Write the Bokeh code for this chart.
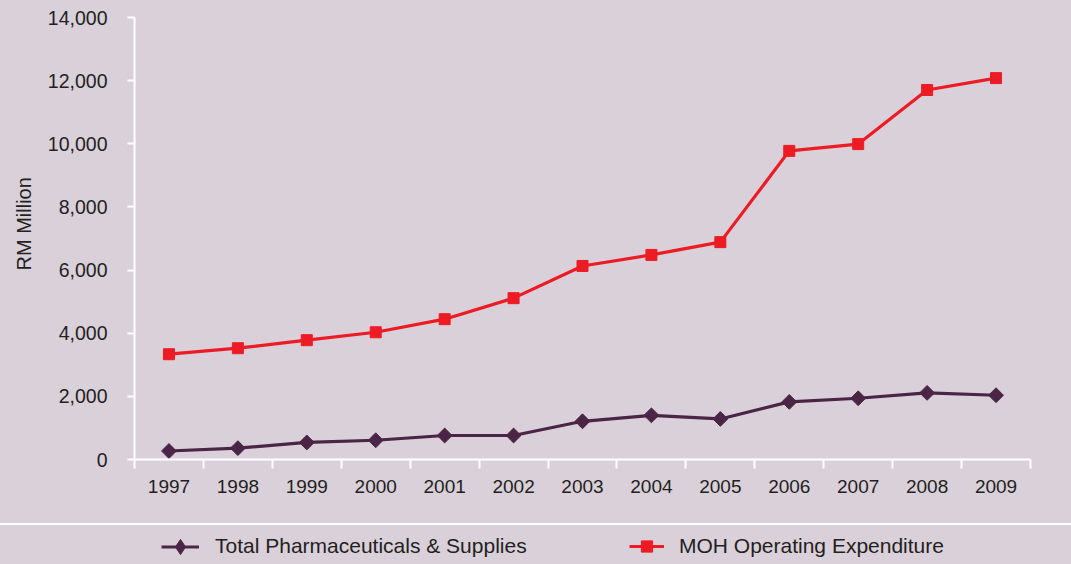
import math
from bokeh.plotting import figure
from bokeh.models import (ColumnDataSource, Range1d, FixedTicker, NumeralTickFormatter,
                          Legend, LegendItem, Title)
from bokeh.layouts import column
from bokeh.embed import file_html
from bokeh.resources import INLINE

# ---- data ----
years = ["1997", "1998", "1999", "2000", "2001", "2002", "2003",
         "2004", "2005", "2006", "2007", "2008", "2009"]
moh_operating = [3335, 3525, 3780, 4030, 4445, 5110, 6130,
                 6480, 6885, 9775, 9990, 11705, 12080]
pharma_supplies = [270, 360, 540, 610, 760, 760, 1210,
                   1400, 1285, 1825, 1940, 2110, 2035]
y_ticks = [0, 2000, 4000, 6000, 8000, 10000, 12000, 14000]
label_pharma = "Total Pharmaceuticals & Supplies"
label_moh = "MOH Operating Expenditure"
y_label = "RM Million"

# ---- style ----
BG = "#dad0da"
TXT = "#231f20"
PURPLE = "#4b2545"
RED = "#ed1c24"
FONT = "Liberation Sans"

xs = [i + 0.5 for i in range(len(years))]
src = ColumnDataSource(dict(x=xs, year=years, moh=moh_operating, pharma=pharma_supplies))

p = figure(width=1071, height=523,
           x_range=Range1d(0, len(years)), y_range=Range1d(0, 14000),
           output_backend="svg", toolbar_location=None,
           min_border_left=134, min_border_right=41,
           min_border_top=17, min_border_bottom=64,
           styles={"background-color": BG})
p.background_fill_color = BG
p.border_fill_color = BG
p.outline_line_color = None
p.grid.visible = False

p.line("x", "moh", source=src, line_color=RED, line_width=3.2)
p.scatter("x", "moh", source=src, marker="square", size=11,
          fill_color=RED, line_color=RED)
p.line("x", "pharma", source=src, line_color=PURPLE, line_width=3.2)
p.scatter("x", "pharma", source=src, marker="square", angle=math.pi / 4, size=10.5,
          fill_color=PURPLE, line_color=PURPLE)

# x axis: labels at category centres, ticks at category boundaries
xa = p.xaxis[0]
xa.ticker = FixedTicker(ticks=xs, minor_ticks=list(range(len(years) + 1)))
xa.major_label_overrides = {x: y for x, y in zip(xs, years)}
xa.major_tick_out = 0
xa.major_tick_in = 0
xa.major_tick_line_color = None
xa.minor_tick_out = 9
xa.minor_tick_in = 0
xa.minor_tick_line_color = "white"
xa.minor_tick_line_width = 2
xa.axis_line_color = "white"
xa.axis_line_width = 2
xa.major_label_text_font = FONT
xa.major_label_text_font_size = "19px"
xa.major_label_text_color = TXT
xa.major_label_standoff = 11

ya = p.yaxis[0]
ya.ticker = FixedTicker(ticks=y_ticks)
ya.formatter = NumeralTickFormatter(format="0,0")
ya.major_tick_out = 7
ya.major_tick_in = 0
ya.major_tick_line_color = "white"
ya.major_tick_line_width = 2
ya.minor_tick_line_color = None
ya.axis_line_color = "white"
ya.axis_line_width = 2
ya.major_label_text_font = FONT
ya.major_label_text_font_size = "19.5px"
ya.major_label_text_color = TXT
ya.major_label_standoff = 20

p.add_layout(Title(text=y_label, align="left", offset=189, standoff=19,
                   text_font=FONT, text_font_size="20px", text_font_style="normal",
                   text_color=TXT), "left")

# ---- legend strip (its series marks lie outside its 0..1 ranges, so only the legend shows) ----
q = figure(width=1071, height=39,
           x_range=Range1d(0, 1), y_range=Range1d(0, 1),
           output_backend="svg", toolbar_location=None,
           min_border_left=134, min_border_right=41, min_border_top=0, min_border_bottom=0,
           x_axis_location=None, y_axis_location=None,
           styles={"background-color": BG})
q.background_fill_color = BG
q.border_fill_color = BG
q.outline_line_color = None
q.grid.visible = False

l1 = q.line("x", "pharma", source=src, line_color=PURPLE, line_width=3.2)
s1 = q.scatter("x", "pharma", source=src, marker="diamond", size=14,
               fill_color=PURPLE, line_color=PURPLE)
l2 = q.line("x", "moh", source=src, line_color=RED, line_width=3.2)
s2 = q.scatter("x", "moh", source=src, marker="square", size=11,
               fill_color=RED, line_color=RED)


def make_legend(label, rends, loc, gw, gh, standoff):
    return Legend(items=[LegendItem(label=label, renderers=rends)], location=loc,
                  padding=0, margin=0, spacing=0, border_line_color=None,
                  background_fill_alpha=0, label_text_font=FONT,
                  label_text_font_size="21px", label_text_color=TXT,
                  glyph_width=gw, glyph_height=gh, label_height=20,
                  label_standoff=standoff)


q.add_layout(make_legend(label_pharma, [l1, s1], (27, -4.5), 38, 45, 16))
q.add_layout(make_legend(label_moh, [l2, s2], (495, 4), 35, 28, 15))

# the white gap between the two parts is the separator line
layout = column(p, q, spacing=2, styles={"background-color": "white"})
open("out.html", "w").write(file_html(layout, INLINE))
